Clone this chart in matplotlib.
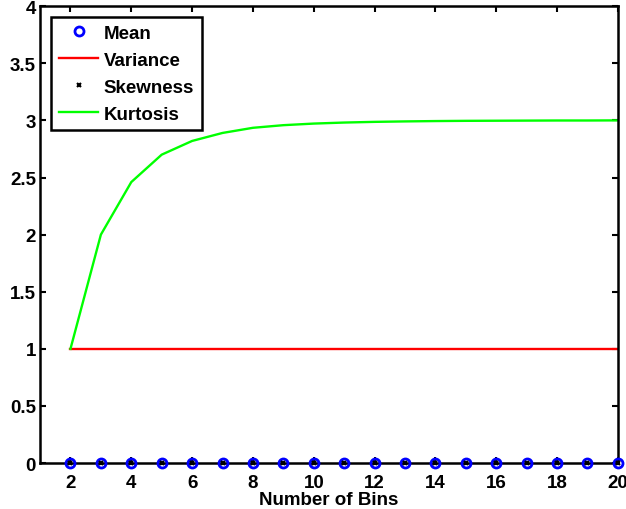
import numpy as np
import matplotlib.pyplot as plt

plt.rcParams['font.family'] = ['Liberation Sans', 'DejaVu Sans']
plt.rcParams['font.weight'] = 'bold'

# moments of the binned distribution vs number of bins
n_bins = list(range(2, 21))
mean_vals = [0.0] * 19
variance_vals = [1.0] * 19
skewness_vals = [0.0] * 19
kurtosis_vals = [1.0, 2.0, 2.46, 2.70, 2.82, 2.89, 2.935, 2.958, 2.972, 2.981,
                 2.987, 2.991, 2.994, 2.996, 2.997, 2.998, 2.999, 2.999, 3.0]

fig = plt.figure(figsize=(6.26, 5.10), dpi=100)
ax = fig.add_axes([0.064, 0.090, 0.923, 0.896])

ax.plot(n_bins, mean_vals, 'o', color='blue', markerfacecolor='none',
        markeredgewidth=2, markersize=6.5, label='Mean', clip_on=False, zorder=4)
ax.plot(n_bins, variance_vals, '-', color='red', linewidth=1.7, label='Variance')
ax.plot(n_bins, skewness_vals, 'x', color='black', markeredgewidth=1.5,
        markersize=3.5, label='Skewness', clip_on=False, zorder=5)
ax.plot(n_bins, kurtosis_vals, '-', color='#00ff00', linewidth=1.7, label='Kurtosis')

ax.set_xlim(1, 20)
ax.set_ylim(0, 4)
ax.set_xticks(np.arange(2, 21, 2))
ax.set_yticks(np.arange(0, 4.01, 0.5))
ax.set_yticklabels(['0', '0.5', '1', '1.5', '2', '2.5', '3', '3.5', '4'])
ax.tick_params(direction='in', top=True, right=True, width=1.5, length=4,
               labelsize=13.5)
ax.tick_params(axis='x', pad=8)
ax.tick_params(axis='y', pad=3)
for s in ax.spines.values():
    s.set_linewidth(1.8)
ax.set_xlabel('Number of Bins', fontsize=13.5, fontweight='bold', labelpad=0)

leg = ax.legend(loc='upper left', fontsize=13.5, handlelength=2.1,
                borderaxespad=0.6, fancybox=False, framealpha=1,
                edgecolor='black', handletextpad=0.3, labelspacing=0.52,
                borderpad=0.4)
leg.get_frame().set_linewidth(1.8)

fig.savefig('out.png', dpi=100)
